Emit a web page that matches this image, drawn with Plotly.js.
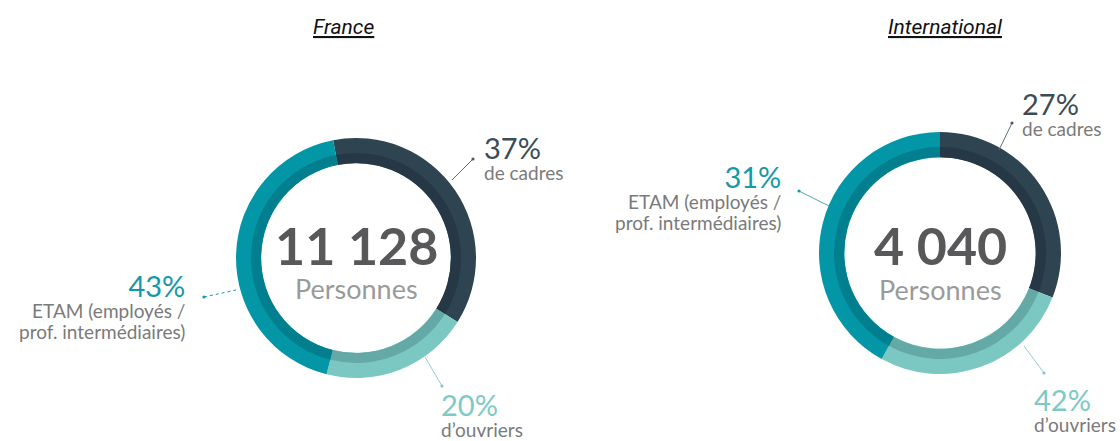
<!DOCTYPE html>
<html>
<head>
<meta charset="utf-8">
<script src="https://cdn.plot.ly/plotly-3.0.1.min.js"></script>
<style>
  body { margin: 0; background: #fff; }
  #chart { width: 1120px; height: 441px; }
</style>
</head>
<body>
<div id="chart"></div>
<script>
// categories, clockwise from the top
let categories = ["cadres", "ouvriers", "ETAM"];
let descriptions = ["de cadres", "d’ouvriers", "ETAM (employés /<br>prof. intermédiaires)"];

// France: printed labels and ring shares agree
let francePct = [37, 20, 43];
let franceRing = [37, 20, 43];
let franceTotal = "11 128";

// International: the ring as drawn does not match the printed labels
let intlPct = [27, 42, 31];
let intlRing = [31, 27, 42];
let intlTotal = "4 040";

let outerColors = ["#2e4451", "#7bc8c3", "#0396a7"];
let innerColors = ["#263846", "#64a9a5", "#017f8f"];

const W = 1120, H = 441;
let px = x => x / W;
let py = y => 1 - y / H;

// a ring is two pies: the wide outer band and a thin darker inner band
function ring(values, cx, cy, r, hole, colors, rotation) {
    return {
        type: "pie",
        values: values,
        labels: categories,
        sort: false,
        direction: "clockwise",
        rotation: rotation,
        hole: hole,
        textinfo: "none",
        hoverinfo: "label+percent",
        marker: { colors: colors, line: { width: 0 } },
        domain: { x: [px(cx - r), px(cx + r)], y: [py(cy + r), py(cy - r)] },
        showlegend: false
    };
}

let data = [
    ring(franceRing, 356, 258, 120, 0.79, outerColors, -11),
    ring(franceRing, 356, 258, 105, 0.905, innerColors, -11),
    ring(intlRing, 940, 253, 121, 0.79, outerColors, 0),
    ring(intlRing, 940, 253, 106, 0.905, innerColors, 0)
];

const font = "Lato, 'Open Sans', sans-serif";
let slate = "#3a4c58", teal = "#1598a9", mint = "#7ccac4", grey = "#7a7a7a";
let pctColors = [slate, mint, teal];

function title(x, text) {
    return {
        xref: "paper", yref: "paper", x: px(x), y: py(27),
        text: text, showarrow: false, xanchor: "center", yanchor: "middle",
        font: { family: "Roboto, sans-serif", size: 21, color: "#111", style: "italic", lineposition: "under" }
    };
}

function txt(x, y, text, size, color, bold) {
    return {
        xref: "paper", yref: "paper", x: px(x), y: py(y),
        text: text, showarrow: false, xanchor: "center", yanchor: "middle",
        font: { family: font, size: size, color: color, weight: bold ? 700 : 400 }
    };
}

// percentage with its description below (line spacing follows the 16px base)
function label(x, y, anchor, pct, i) {
    return {
        xref: "paper", yref: "paper", x: px(x), y: py(y),
        text: "<span style='font-size:29px;color:" + pctColors[i] + "'>" + pct[i] + "%</span><br>" +
              "<span style='font-size:19px'>" + descriptions[i].replace("<br>", "</span><br><span style='font-size:19px'>") + "</span>",
        showarrow: false, xanchor: anchor, yanchor: "middle", align: anchor,
        font: { family: font, size: 16, color: grey }
    };
}

let annotations = [
    title(343, "France"),
    title(945, "International"),
    txt(356, 245, franceTotal, 52, "#58585a", true),
    txt(356, 288, "Personnes", 27, "#9a9a9a"),
    txt(940, 245, intlTotal, 52, "#58585a", true),
    txt(940, 289, "Personnes", 27, "#9a9a9a"),
    label(482, 157, "left", francePct, 0),
    label(439, 414, "left", francePct, 1),
    label(187, 305, "right", francePct, 2),
    label(1020, 113, "left", intlPct, 0),
    label(1032, 409, "left", intlPct, 1),
    label(783, 196, "right", intlPct, 2)
];

function leader(x0, y0, x1, y1, color, dash) {
    return {
        type: "line", xref: "paper", yref: "paper",
        x0: px(x0), y0: py(y0), x1: px(x1), y1: py(y1),
        line: { color: color, width: 1, dash: dash || "solid" }
    };
}
function dot(x, y, color) {
    return {
        type: "circle", xref: "paper", yref: "paper",
        x0: px(x - 1.6), x1: px(x + 1.6), y0: py(y + 1.6), y1: py(y - 1.6),
        fillcolor: color, line: { width: 0 }
    };
}

let shapes = [
    leader(452, 180, 473, 159, "#5f6e78"), dot(473, 159, "#4a5a66"),
    leader(204, 297, 236, 290, teal, "dot"), dot(204, 297, teal),
    leader(425, 357, 442, 386, "#8fd0cb"), dot(442, 386, mint),
    leader(999, 150, 1012, 123, "#5f6e78"), dot(1012, 123, "#4a5a66"),
    leader(799, 191, 829, 206, "#4aa8b6"), dot(799, 191, teal),
    leader(1024, 346, 1044, 373, "#8fd0cb"), dot(1044, 373, mint)
];

let layout = {
    width: W,
    height: H,
    margin: { l: 0, r: 0, t: 0, b: 0 },
    paper_bgcolor: "#ffffff",
    annotations: annotations,
    shapes: shapes
};

Plotly.newPlot("chart", data, layout, { displayModeBar: false, staticPlot: true });
</script>
</body>
</html>
